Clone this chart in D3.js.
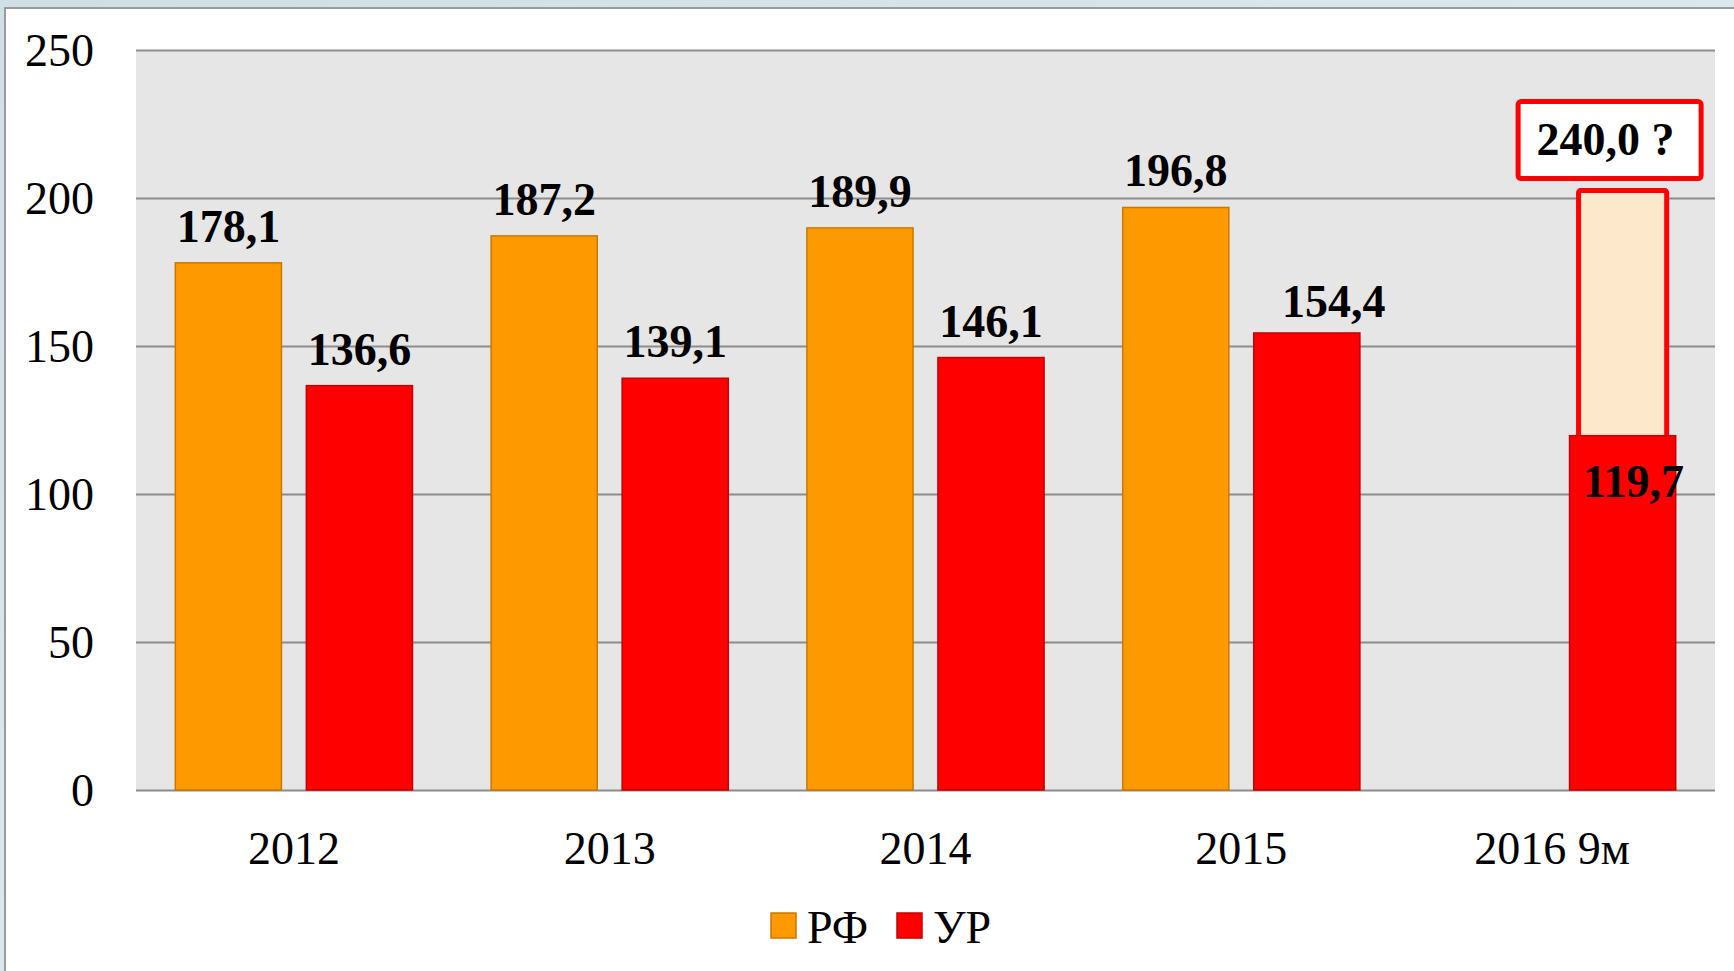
<!doctype html>
<html lang="ru">
<head>
<meta charset="utf-8">
<style>
	body{ margin:0; background:#fff; }
	svg text{ font-family:"Liberation Serif", "Times New Roman", serif; fill:#000; }
</style>
</head>
<body>
<div id="grafico"></div>

<script src="https://d3js.org/d3.v7.min.js"></script>
<script>

var categories = ["2012", "2013", "2014", "2015", "2016 9м"];
var seriesNames = ["РФ", "УР"];
var rfValues = [178.1, 187.2, 189.9, 196.8, null];
var urValues = [136.6, 139.1, 146.1, 154.4, 119.7];
var yTicks = [0, 50, 100, 150, 200, 250];

// forecast for 2016 (drawn only up to ~203 on the axis, labelled 240,0 ?)
var forecastLabel = "240,0 ?";
var forecastDrawnTop = 202.5;

var colors = {"РФ":"#ff9900", "УР":"#ff0000"};
var strokes = {"РФ":"#c77a00", "УР":"#c40000"};

var W = 1734, H = 971;
var plot = {left:136, right:1715, top:50, bottom:790};

var svg = d3.select("#grafico").append("svg").attr("width", W).attr("height", H);

var defs = svg.append("defs");
var grad = defs.append("linearGradient").attr("id","bg").attr("x1","0").attr("y1","0").attr("x2","1").attr("y2","1");
grad.append("stop").attr("offset","0").attr("stop-color","#cfdfe4");
grad.append("stop").attr("offset","1").attr("stop-color","#e9f1f3");

svg.append("rect").attr("width", W).attr("height", H).attr("fill","url(#bg)");
svg.append("rect").attr("x",5).attr("y",8).attr("width",W+20).attr("height",H+20)
	.attr("fill","#fff").attr("stroke","#9b9b9b").attr("stroke-width",2);

// plot area
svg.append("rect").attr("x",plot.left).attr("y",plot.top)
	.attr("width",plot.right-plot.left).attr("height",plot.bottom-plot.top).attr("fill","#e6e6e6");

var y = d3.scaleLinear().domain([0,250]).range([plot.bottom, plot.top]);
var x0 = d3.scaleBand().domain(categories).range([plot.left, plot.right]).padding(0);
var x1 = d3.scaleBand().domain(seriesNames).range([0, x0.bandwidth()]).paddingInner(0.19).paddingOuter(0.3);

// gridlines + y labels
var yAxis = d3.axisLeft(y).tickValues(yTicks).tickSize(-(plot.right-plot.left)).tickPadding(42).tickFormat(d3.format("d"));
var gy = svg.append("g").attr("transform","translate(" + plot.left + ",0)").call(yAxis);
gy.select(".domain").remove();
gy.selectAll(".tick line").attr("stroke","#8c8c8c").attr("stroke-width",2);
gy.selectAll(".tick text").style("font-size","46px").attr("dy","0.33em").attr("fill","#000");

// x labels
var xAxis = d3.axisBottom(x0).tickSize(0).tickPadding(0);
var gx = svg.append("g").attr("transform","translate(0," + plot.bottom + ")").call(xAxis);
gx.select(".domain").remove();
gx.selectAll(".tick text").style("font-size","46px").attr("y",74).attr("dy",0).attr("fill","#000")
	.attr("dx", function(d){ return d == "2016 9м" ? -5 : 0; });

var fmt = function(v){ return d3.format(".1f")(v).replace(".", ","); };

var rows = categories.map(function(c,i){
	return {cat:c, values:[{key:"РФ", v:rfValues[i], cat:c}, {key:"УР", v:urValues[i], cat:c}]};
});

var lastCat = categories[categories.length-1];

// label nudges as in the original slide
function labelDx(d){
	if (d.cat == lastCat) return 11;
	if (d.cat == "2015" && d.key == "УР") return 27;
	return 0;
}
function labelY(d){
	if (d.cat == lastCat) return y(d.v) + 61;
	if (d.cat == "2015" && d.key == "УР") return y(d.v) - 16;
	return y(d.v) - 21;
}

// forecast box behind the 2016 red bar
var fx = x0(lastCat) + x1("УР");
var fw = x1.bandwidth();
svg.append("rect").attr("x", fx+9).attr("y", y(forecastDrawnTop))
	.attr("width", fw-18).attr("height", y(urValues[4]) - y(forecastDrawnTop) + 10)
	.attr("rx",2).attr("fill","#fde8cb").attr("stroke","#ff0000").attr("stroke-width",5);

var grupo = svg.selectAll("g.cat").data(rows).enter().append("g").attr("class","cat")
	.attr("transform", function(d){ return "translate(" + x0(d.cat) + ",0)"; });

var bars = grupo.selectAll("g.bar").data(function(d){ return d.values.filter(function(e){ return e.v != null; }); })
	.enter().append("g").attr("class","bar");

bars.append("rect")
	.attr("x", function(d){ return x1(d.key); })
	.attr("y", function(d){ return y(d.v); })
	.attr("width", x1.bandwidth())
	.attr("height", function(d){ return y(0) - y(d.v); })
	.attr("fill", function(d){ return colors[d.key]; })
	.attr("stroke", function(d){ return strokes[d.key]; })
	.attr("stroke-width", 1.5);

bars.append("text")
	.text(function(d){ return fmt(d.v); })
	.attr("x", function(d){ return x1(d.key) + x1.bandwidth()/2 + labelDx(d); })
	.attr("y", labelY)
	.attr("text-anchor","middle")
	.style("font-size","46px").style("font-weight","bold");

// 240,0 ? label box
var boxW = 183, boxH = 77;
var boxCx = fx + fw/2 - 13;
var boxBottom = y(forecastDrawnTop) - 12;
svg.append("rect").attr("x", boxCx - boxW/2).attr("y", boxBottom - boxH)
	.attr("width", boxW).attr("height", boxH).attr("rx",3)
	.attr("fill","#fff").attr("stroke","#ff0000").attr("stroke-width",5);
svg.append("text").text(forecastLabel).attr("x", boxCx - 4).attr("y", boxBottom - boxH/2 + 15)
	.attr("text-anchor","middle").style("font-size","46px").style("font-weight","bold");

// legend
var legend = svg.append("g").attr("transform","translate(771,913)");
var items = [{key:"РФ", x:0}, {key:"УР", x:126}];
var li = legend.selectAll("g").data(items).enter().append("g")
	.attr("transform", function(d){ return "translate(" + d.x + ",0)"; });
li.append("rect").attr("width",25).attr("height",25)
	.attr("fill", function(d){ return colors[d.key]; })
	.attr("stroke", function(d){ return strokes[d.key]; }).attr("stroke-width",1.5);
li.append("text").text(function(d){ return d.key; }).attr("x",36).attr("y",30)
	.style("font-size","46px");

</script>
</body>
</html>
